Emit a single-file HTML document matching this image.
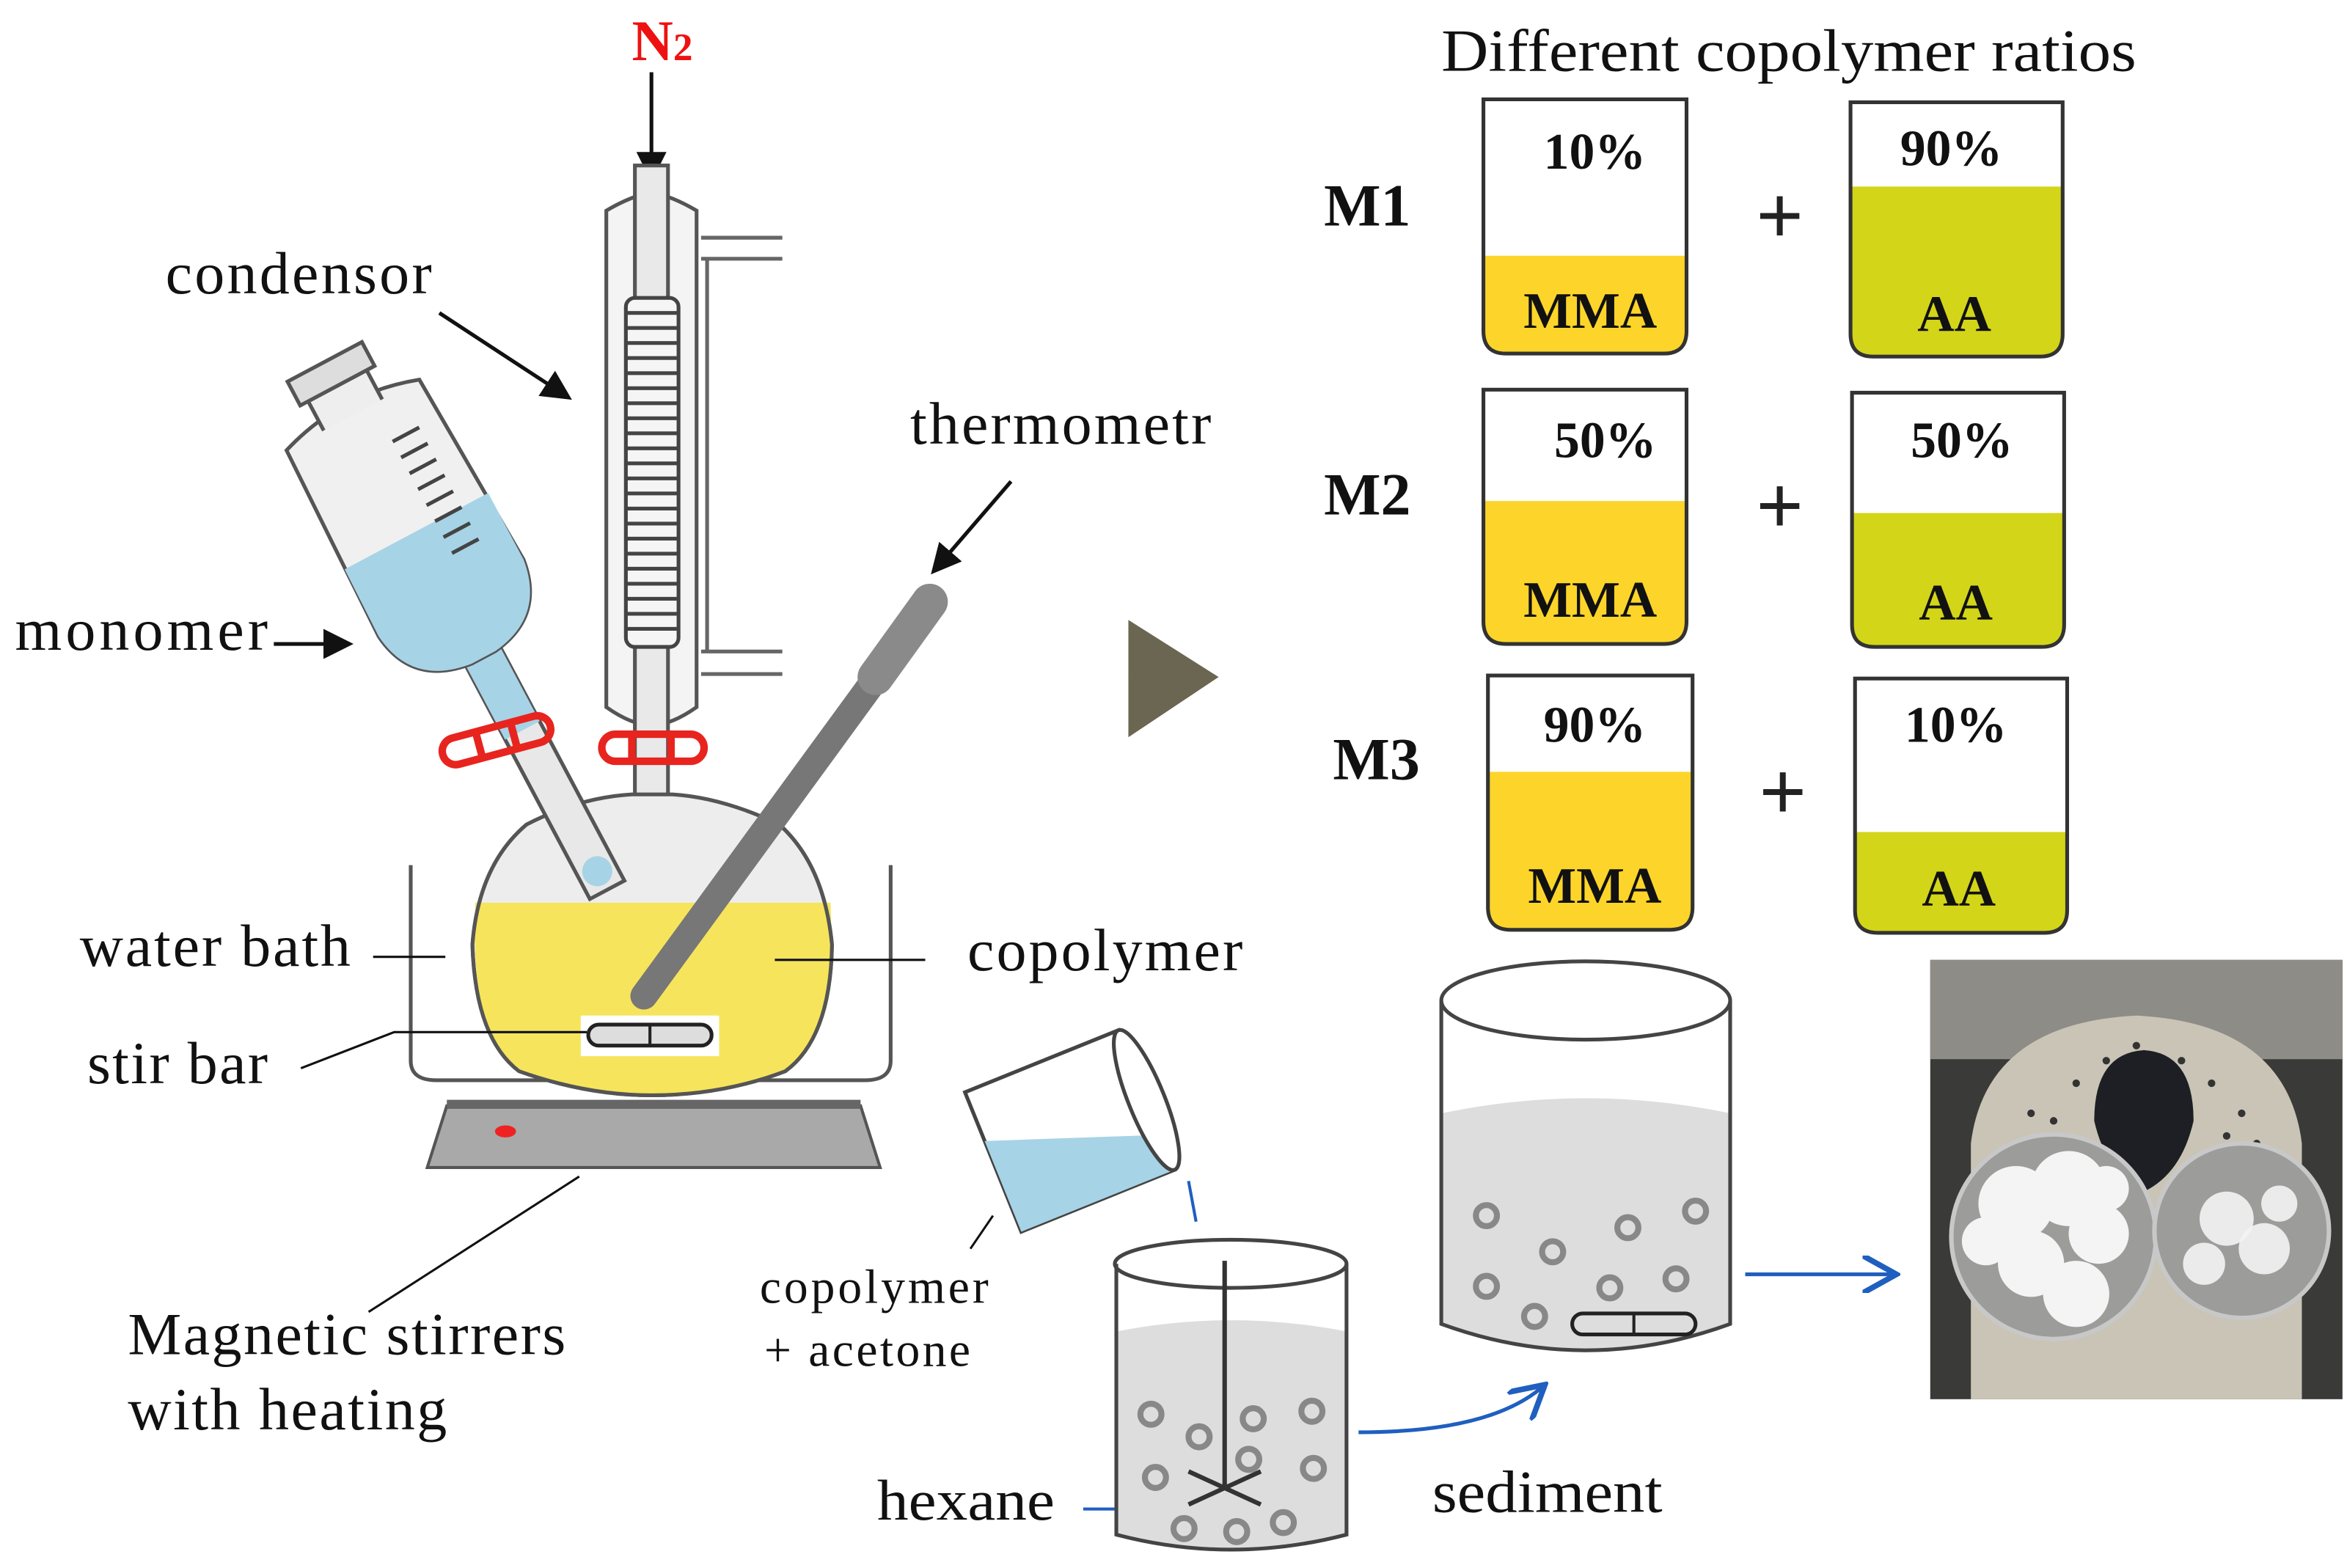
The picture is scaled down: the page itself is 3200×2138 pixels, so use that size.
<!DOCTYPE html>
<html><head><meta charset="utf-8"><style>html,body{margin:0;padding:0;background:#fff}svg{display:block}</style></head>
<body>
<svg width="3200" height="2138" viewBox="0 0 1560 1042.2" preserveAspectRatio="none" xmlns="http://www.w3.org/2000/svg" font-family="Liberation Serif, serif">
<defs>
<marker id="ah" markerWidth="8" markerHeight="8" refX="6" refY="4" orient="auto"><path d="M0,0 L8,4 L0,8 z" fill="#111"/></marker>
<marker id="bh" markerWidth="10" markerHeight="10" refX="8" refY="5" orient="auto"><path d="M0,0 L9,5 L0,10" fill="none" stroke="#1f5fbf" stroke-width="1.5"/></marker>
</defs>
<rect width="1560" height="1043" fill="#fff"/>

<text x="958" y="47" font-size="40" fill="#111" textLength="462" lengthAdjust="spacingAndGlyphs">Different copolymer ratios</text>
<g font-size="40" font-weight="bold" fill="#111">
<text x="880" y="150">M1</text><text x="880" y="342">M2</text><text x="886" y="518">M3</text>
</g>
<g font-size="56" font-weight="bold" fill="#222" text-anchor="middle">
<text x="1183" y="162">+</text><text x="1183" y="355">+</text><text x="1185" y="545">+</text>
</g>

<g stroke="#333" stroke-width="2.5" font-weight="bold" font-size="34" text-anchor="middle" fill="#111">
<path d="M986,170 H1121 V220 Q1121,235 1106,235 H1001 Q986,235 986,220Z" fill="#fdd52a" stroke="none"/>
<path d="M986,66 H1121 V220 Q1121,235 1106,235 H1001 Q986,235 986,220Z" fill="none"/>
<text x="1060" y="112" stroke="none">10%</text><text x="1057" y="218" stroke="none">MMA</text>
<path d="M1230,124 H1371 V222 Q1371,237 1356,237 H1245 Q1230,237 1230,222Z" fill="#d3d519" stroke="none"/>
<path d="M1230,68 H1371 V222 Q1371,237 1356,237 H1245 Q1230,237 1230,222Z" fill="none"/>
<text x="1297" y="110" stroke="none">90%</text><text x="1299" y="220" stroke="none">AA</text>

<path d="M986,333 H1121 V413 Q1121,428 1106,428 H1001 Q986,428 986,413Z" fill="#fdd52a" stroke="none"/>
<path d="M986,259 H1121 V413 Q1121,428 1106,428 H1001 Q986,428 986,413Z" fill="none"/>
<text x="1067" y="304" stroke="none">50%</text><text x="1057" y="410" stroke="none">MMA</text>
<path d="M1231,341 H1372 V415 Q1372,430 1357,430 H1246 Q1231,430 1231,415Z" fill="#d3d519" stroke="none"/>
<path d="M1231,261 H1372 V415 Q1372,430 1357,430 H1246 Q1231,430 1231,415Z" fill="none"/>
<text x="1304" y="304" stroke="none">50%</text><text x="1300" y="412" stroke="none">AA</text>

<path d="M989,513 H1125 V603 Q1125,618 1110,618 H1004 Q989,618 989,603Z" fill="#fdd52a" stroke="none"/>
<path d="M989,449 H1125 V603 Q1125,618 1110,618 H1004 Q989,618 989,603Z" fill="none"/>
<text x="1060" y="493" stroke="none">90%</text><text x="1060" y="600" stroke="none">MMA</text>
<path d="M1233,553 H1374 V605 Q1374,620 1359,620 H1248 Q1233,620 1233,605Z" fill="#d3d519" stroke="none"/>
<path d="M1233,451 H1374 V605 Q1374,620 1359,620 H1248 Q1233,620 1233,605Z" fill="none"/>
<text x="1300" y="493" stroke="none">10%</text><text x="1302" y="602" stroke="none">AA</text>
</g>

<path d="M750,412 L810,450 L750,490Z" fill="#6b6651"/>

<text x="420" y="40" font-size="38" font-weight="bold" fill="#e11">N<tspan font-size="26">2</tspan></text>
<line x1="433" y1="48" x2="433" y2="116" stroke="#111" stroke-width="2.5" marker-end="url(#ah)"/>

<path d="M273,575 V705 Q273,718 290,718 H575 Q592,718 592,705 V575" fill="none" stroke="#555" stroke-width="2.5"/>
<path d="M297,735 H572 L585,776 H284Z" fill="#a9a9a9" stroke="#555" stroke-width="2"/>
<rect x="297" y="731" width="275" height="6" fill="#666"/>
<ellipse cx="336" cy="752" rx="7" ry="4" fill="#e22"/>

<path d="M403,140 Q420,130 433,128 Q446,130 463,140 V470 Q446,482 433,482 Q420,482 403,470Z" fill="#f4f4f4" stroke="#555" stroke-width="2.5"/>
<path d="M466,158 H520 M466,172 H520 M470,172 V433 M466,433 H520 M466,448 H520" fill="none" stroke="#666" stroke-width="2.5"/>
<rect x="422" y="110" width="22" height="440" fill="#e9e9e9" stroke="#555" stroke-width="2.5"/>
<g stroke="#444" stroke-width="2.5" fill="#fff">
<rect x="416" y="198" width="35" height="232" rx="6" fill="#f5f5f5"/>
<path d="M416,208 H451 M416,218 H451 M416,228 H451 M416,238 H451 M416,248 H451 M416,258 H451 M416,268 H451 M416,278 H451 M416,288 H451 M416,298 H451 M416,308 H451 M416,318 H451 M416,328 H451 M416,338 H451 M416,348 H451 M416,358 H451 M416,368 H451 M416,378 H451 M416,388 H451 M416,398 H451 M416,408 H451 M416,418 H451"/>
</g>

<path d="M350,548 Q318,575 314,628 Q316,690 345,712 Q390,728 433,728 Q480,728 522,712 Q552,690 553,628 Q548,575 518,548 Q480,530 447,528 H420 Q385,530 350,548Z" fill="#ededed" stroke="#555" stroke-width="2.5"/>
<path d="M316,600 H552 Q556,690 522,712 Q480,728 433,728 Q390,728 345,712 Q312,690 316,600Z" fill="#f6e45c"/>
<path d="M350,548 Q318,575 314,628 Q316,690 345,712 Q390,728 433,728 Q480,728 522,712 Q552,690 553,628 Q548,575 518,548" fill="none" stroke="#555" stroke-width="2.5"/>
<rect x="386" y="675" width="92" height="27" fill="#fff"/>
<rect x="391" y="681" width="82" height="14" rx="7" fill="#ddd" stroke="#222" stroke-width="2.5"/>
<line x1="432" y1="681" x2="432" y2="695" stroke="#222" stroke-width="2"/>
<g fill="none" stroke="#e8241f" stroke-width="5">
<rect x="400" y="488" width="68" height="18" rx="9"/><line x1="420" y1="488" x2="420" y2="506"/><line x1="446" y1="488" x2="446" y2="506"/>
</g>

<g transform="rotate(-28 290 380)">
<rect x="278" y="420" width="26" height="200" fill="#e8e8e8" stroke="#555" stroke-width="2.5"/>
<rect x="278" y="430" width="26" height="70" fill="#a7d3e6"/>
<path d="M240,262 Q290,245 340,262 L345,400 Q340,440 300,445 H282 Q240,440 236,400Z" fill="#f0f0f0" stroke="#555" stroke-width="2.5"/>
<path d="M237,350 H345 L345,400 Q340,440 300,445 H282 Q240,440 236,400Z" fill="#a7d3e6"/>
<path d="M268,262 V240 H312 V262" fill="#eee" stroke="#555" stroke-width="2.5"/>
<rect x="262" y="222" width="56" height="18" fill="#ddd" stroke="#555" stroke-width="2.5"/>
<g stroke="#444" stroke-width="2.5"><path d="M305,290 H325 M305,302 H325 M305,314 H325 M305,326 H325 M305,338 H325 M305,350 H325 M305,362 H325 M305,374 H325"/></g>
<ellipse cx="291" cy="606" rx="10" ry="10" fill="#a7d3e6"/>
</g>
<g fill="none" stroke="#e8241f" stroke-width="5" transform="rotate(-15 330 492)">
<rect x="293" y="483" width="74" height="18" rx="9"/><line x1="318" y1="483" x2="318" y2="501"/><line x1="342" y1="483" x2="342" y2="501"/>
</g>

<line x1="612" y1="410" x2="428" y2="662" stroke="#777" stroke-width="18" stroke-linecap="round"/>
<line x1="618" y1="400" x2="582" y2="450" stroke="#8a8a8a" stroke-width="24" stroke-linecap="round"/>

<g font-size="40" fill="#111" lengthAdjust="spacingAndGlyphs">
<text x="110" y="195" textLength="177">condensor</text>
<text x="605" y="295" textLength="200">thermometr</text>
<text x="10" y="432" textLength="168">monomer</text>
<text x="53" y="642" textLength="180">water bath</text>
<text x="643" y="645" textLength="183">copolymer</text>
<text x="58" y="720" textLength="120">stir bar</text>
<text x="85" y="900" textLength="291">Magnetic stirrers</text>
<text x="85" y="950" textLength="212">with heating</text>
</g>
<g stroke="#111" stroke-width="2.5" fill="none">
<line x1="292" y1="208" x2="376" y2="263" marker-end="url(#ah)"/>
<line x1="672" y1="320" x2="622" y2="378" marker-end="url(#ah)"/>
<line x1="182" y1="428" x2="230" y2="428" marker-end="url(#ah)"/>
<line x1="248" y1="636" x2="296" y2="636" stroke-width="1.5"/>
<line x1="515" y1="638" x2="615" y2="638" stroke-width="1.5"/>
<path d="M200,710 L262,686 H390" stroke-width="1.5"/>
<line x1="245" y1="872" x2="385" y2="782" stroke-width="1.5"/>
</g>

<g transform="rotate(-22 715 748)">
<path d="M655,700 H765 V800 H655Z" fill="#fff" stroke="#444" stroke-width="2.5"/>
<path d="M655,735 L765,775 V800 H655Z" fill="#a7d3e6"/>
<ellipse cx="765" cy="750" rx="12" ry="50" fill="#fff" stroke="#444" stroke-width="2.5"/>
</g>
<line x1="790" y1="785" x2="795" y2="812" stroke="#1f5fbf" stroke-width="2"/>
<line x1="660" y1="808" x2="645" y2="830" stroke="#111" stroke-width="1.5"/>
<g font-size="32" fill="#111" lengthAdjust="spacingAndGlyphs"><text x="505" y="866" textLength="152">copolymer</text><text x="508" y="908" textLength="137">+ acetone</text></g>

<path d="M742,885 Q818,870 895,885 V1020 Q818,1040 742,1020Z" fill="#ddd"/>
<path d="M742,840 V1020 Q818,1040 895,1020 V840" fill="none" stroke="#444" stroke-width="2.5"/>
<ellipse cx="818" cy="840" rx="77" ry="16" fill="none" stroke="#444" stroke-width="2.5"/>
<g fill="none" stroke="#888" stroke-width="4">
<circle cx="765" cy="940" r="7"/><circle cx="797" cy="955" r="7"/><circle cx="833" cy="943" r="7"/><circle cx="872" cy="938" r="7"/><circle cx="768" cy="982" r="7"/><circle cx="830" cy="970" r="7"/><circle cx="873" cy="976" r="7"/><circle cx="787" cy="1016" r="7"/><circle cx="822" cy="1018" r="7"/><circle cx="853" cy="1012" r="7"/>
</g>
<line x1="814" y1="838" x2="814" y2="990" stroke="#333" stroke-width="3"/>
<path d="M790,978 L838,1000 M790,1000 L838,978" stroke="#333" stroke-width="3"/>
<text x="583" y="1010" font-size="38" fill="#111" textLength="118" lengthAdjust="spacingAndGlyphs">hexane</text>
<line x1="720" y1="1003" x2="741" y2="1003" stroke="#1f5fbf" stroke-width="2"/>

<path d="M903,952 Q990,952 1025,922" fill="none" stroke="#1f5fbf" stroke-width="2.5" marker-end="url(#bh)"/>
<text x="952" y="1005" font-size="40" fill="#111" textLength="153" lengthAdjust="spacingAndGlyphs">sediment</text>

<path d="M958,740 Q1054,720 1150,740 V880 Q1054,915 958,880Z" fill="#ddd"/>
<path d="M958,665 V880 Q1054,915 1150,880 V665" fill="none" stroke="#444" stroke-width="2.5"/>
<ellipse cx="1054" cy="665" rx="96" ry="26" fill="#fff" stroke="#444" stroke-width="2.5"/>
<g fill="none" stroke="#888" stroke-width="4">
<circle cx="988" cy="808" r="7"/><circle cx="1032" cy="832" r="7"/><circle cx="1082" cy="816" r="7"/><circle cx="1127" cy="805" r="7"/><circle cx="988" cy="855" r="7"/><circle cx="1070" cy="856" r="7"/><circle cx="1114" cy="850" r="7"/><circle cx="1020" cy="875" r="7"/>
</g>
<rect x="1045" y="873" width="82" height="14" rx="7" fill="#ddd" stroke="#222" stroke-width="2.5"/>
<line x1="1086" y1="873" x2="1086" y2="887" stroke="#222" stroke-width="2"/>
<line x1="1160" y1="847" x2="1258" y2="847" stroke="#1f5fbf" stroke-width="2.5" marker-end="url(#bh)"/>

<g>
<rect x="1283" y="638" width="274" height="292" fill="#3a3a38"/>
<rect x="1283" y="638" width="274" height="66" fill="#8e8c86"/>
<path d="M1310,930 V760 Q1320,680 1420,675 Q1520,680 1530,760 V930Z" fill="#c9c4b6"/>
<g fill="#333">
<circle cx="1380" cy="720" r="2.5"/><circle cx="1400" cy="705" r="2.5"/><circle cx="1450" cy="705" r="2.5"/><circle cx="1470" cy="720" r="2.5"/><circle cx="1350" cy="740" r="2.5"/><circle cx="1490" cy="740" r="2.5"/><circle cx="1340" cy="760" r="2.5"/><circle cx="1500" cy="760" r="2.5"/><circle cx="1365" cy="745" r="2.5"/><circle cx="1480" cy="755" r="2.5"/><circle cx="1420" cy="695" r="2.5"/>
</g>
<path d="M1392,745 Q1392,700 1425,698 Q1458,700 1458,745 Q1450,780 1425,792 Q1400,780 1392,745Z" fill="#1e1f24"/>
<circle cx="1365" cy="822" r="68" fill="#9c9c9a" stroke="#c8c8c8" stroke-width="3"/>
<circle cx="1490" cy="818" r="58" fill="#9c9c9a" stroke="#c8c8c8" stroke-width="3"/>
<g fill="#f4f4f4">
<circle cx="1340" cy="800" r="25"/><circle cx="1375" cy="790" r="25"/><circle cx="1395" cy="820" r="20"/><circle cx="1350" cy="840" r="22"/><circle cx="1380" cy="860" r="22"/><circle cx="1320" cy="825" r="16"/><circle cx="1400" cy="790" r="15"/>
<circle cx="1480" cy="810" r="18" opacity="0.9"/><circle cx="1505" cy="830" r="17" opacity="0.9"/><circle cx="1465" cy="840" r="14" opacity="0.9"/><circle cx="1515" cy="800" r="12" opacity="0.9"/>
</g>
</g>
</svg>
</body></html>
